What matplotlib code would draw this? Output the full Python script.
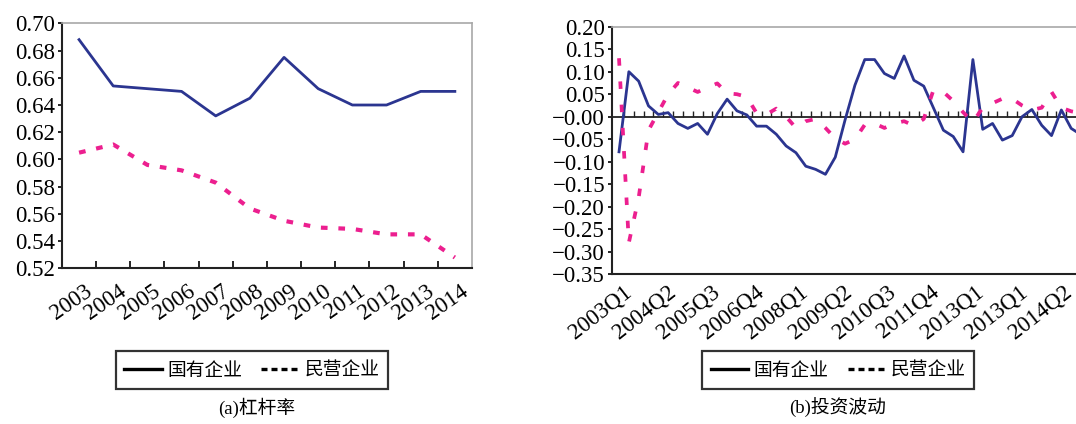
import numpy as np
import matplotlib
matplotlib.use('Agg')
import matplotlib.pyplot as plt
from matplotlib.lines import Line2D
from matplotlib.ticker import FuncFormatter

plt.rcParams['font.family'] = ['Liberation Serif', 'Noto Sans CJK SC']
plt.rcParams['axes.unicode_minus'] = True

# (a) leverage, yearly
years = ['2003', '2004', '2005', '2006', '2007', '2008', '2009', '2010',
         '2011', '2012', '2013', '2014']
soe_lev = [0.688, 0.654, 0.652, 0.650, 0.632, 0.645, 0.675, 0.652,
           0.640, 0.640, 0.650, 0.650]
pe_lev = [0.605, 0.611, 0.596, 0.592, 0.583, 0.564, 0.555, 0.550,
          0.549, 0.545, 0.545, 0.528]

# (b) investment volatility, quarterly from 2003Q1
soe_inv = [-0.078, 0.100, 0.079, 0.024, 0.005, 0.009, -0.015, -0.026,
           -0.015, -0.039, 0.007, 0.039, 0.013, 0.004, -0.021, -0.021,
           -0.039, -0.065, -0.080, -0.110, -0.117, -0.128, -0.090, -0.007,
           0.070, 0.127, 0.127, 0.096, 0.085, 0.135, 0.081, 0.068,
           0.019, -0.030, -0.044, -0.078, 0.127, -0.028, -0.015, -0.052,
           -0.042, 0.000, 0.016, -0.019, -0.042, 0.015, -0.026, -0.040]
pe_inv = [0.130, -0.280, -0.180, -0.030, 0.010, 0.050, 0.075, 0.065,
          0.055, 0.065, 0.074, 0.052, 0.050, 0.044, 0.008, 0.005,
          0.018, 0.000, -0.025, -0.010, -0.005, -0.025, -0.048, -0.060,
          -0.050, -0.018, -0.015, -0.025, -0.015, -0.010, -0.020, -0.005,
          0.060, 0.055, 0.035, 0.010, -0.012, 0.020, 0.030, 0.040,
          0.040, 0.025, 0.015, 0.020, 0.055, 0.020, 0.012, 0.008]
quarter_labels = ['2003Q1', '2004Q2', '2005Q3', '2006Q4', '2008Q1', '2009Q2',
                  '2010Q3', '2011Q4', '2013Q1', '2013Q1', '2014Q2']

legend_names = ['国有企业', '民营企业']

blue = '#2b3590'
pink = '#ec1f8f'
num_size = 16.5

fig = plt.figure(figsize=(10.76, 4.24), dpi=100)

# ---------- (a) ----------
ax1 = fig.add_axes([0.0576, 0.367, 0.381, 0.578])
x1 = np.arange(len(years))
ax1.plot(x1, soe_lev, color=blue, lw=2.0)
ax1.plot(x1, pe_lev, color=pink, lw=3.0, dashes=(1.6, 2.6))
ax1.set_xlim(-0.5, len(years) - 0.5)
ax1.set_ylim(0.52, 0.70)
ax1.set_yticks(np.arange(0.52, 0.7001, 0.02))
ax1.yaxis.set_major_formatter(FuncFormatter(lambda v, p: '%.2f' % v))
ax1.set_xticks(x1 + 0.15)
ax1.set_xticklabels(years, rotation=35, ha='right', va='top',
                    rotation_mode='anchor')
ax1.set_xticks(x1[:-1] + 0.5, minor=True)
ax1.tick_params(axis='x', which='major', length=0, pad=9, labelsize=num_size)
ax1.tick_params(axis='x', which='minor', direction='in', length=5, width=1.2)
ax1.tick_params(axis='y', direction='out', length=3, width=1.2,
                labelsize=num_size, pad=2)
for s in ['left', 'bottom']:
    ax1.spines[s].set_linewidth(1.5)
    ax1.spines[s].set_color('#222222')
for s in ['top', 'right']:
    ax1.spines[s].set_linewidth(1.2)
    ax1.spines[s].set_color('#a8a8a8')

# ---------- (b) ----------
ax2 = fig.add_axes([0.5688, 0.3533, 0.4312, 0.5837])
x2 = np.arange(len(soe_inv))
ax2.plot(x2, soe_inv, color=blue, lw=2.0)
ax2.plot(x2, pe_inv, color=pink, lw=2.7, dashes=(2.0, 4.2))
ax2.set_xlim(-0.71, 46.49)
ax2.set_ylim(-0.35, 0.20)
ax2.set_yticks(np.arange(-0.35, 0.2001, 0.05))
ax2.yaxis.set_major_formatter(
    FuncFormatter(lambda v, p: ('%.2f' % v).replace('-', '\u2212')))
ax2.set_xticks(np.arange(len(quarter_labels)) * 4.47 + 0.4)
ax2.set_xticklabels(quarter_labels, rotation=38, ha='right', va='top',
                    rotation_mode='anchor')
ax2.tick_params(axis='x', length=0, pad=5, labelsize=num_size)
ax2.tick_params(axis='y', direction='out', length=3, width=1.2,
                labelsize=num_size, pad=2)
ax2.spines['right'].set_visible(False)
ax2.spines['top'].set_color('#a8a8a8')
ax2.spines['top'].set_linewidth(1.2)
for s in ['left', 'bottom']:
    ax2.spines[s].set_linewidth(1.5)
    ax2.spines[s].set_color('#222222')

# zero line with category ticks
zero_ax = ax2.secondary_xaxis(0.35 / 0.55)
zero_ax.set_xticks(np.arange(len(soe_inv)) + 0.5)
zero_ax.tick_params(direction='out', length=4.3, width=1.0, color='#222222',
                    labeltop=False, labelbottom=False)
for s in zero_ax.spines.values():
    s.set_linewidth(1.3)
    s.set_color('#222222')

# ---------- legends & captions ----------
handles = [Line2D([], [], color='black', lw=2.4),
           Line2D([], [], color='black', lw=2.4, dashes=(1.8, 1.2))]
for cx in [0.234, 0.779]:
    leg = fig.legend(handles, legend_names, loc='center',
                     bbox_to_anchor=(cx, 0.127), ncol=2, frameon=True,
                     fancybox=False, edgecolor='black', handlelength=2.0,
                     handletextpad=0.3, columnspacing=1.0, borderpad=0.45,
                     prop={'family': 'Noto Sans CJK SC', 'size': 13.5})
    leg.get_frame().set_linewidth(1.6)

fig.text(0.239, 0.038, '(a)杠杆率', ha='center', va='center', fontsize=13.5)
fig.text(0.778, 0.038, '(b)投资波动', ha='center', va='center', fontsize=13.5)

fig.savefig('out.png', dpi=100)
